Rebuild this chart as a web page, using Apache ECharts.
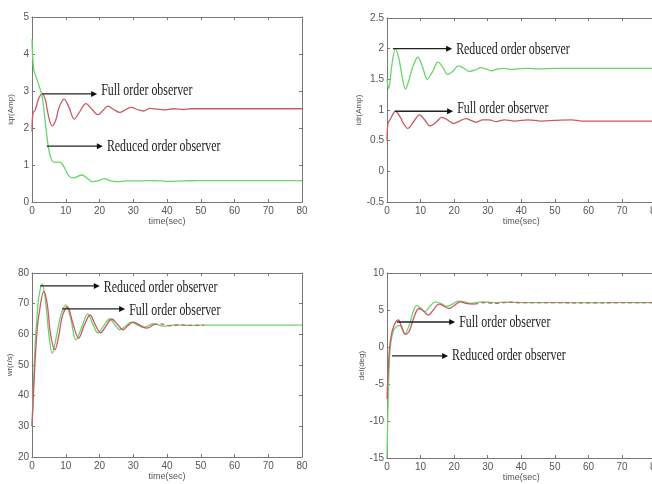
<!DOCTYPE html>
<html><head><meta charset="utf-8">
<script src="https://cdn.jsdelivr.net/npm/echarts@6/dist/echarts.min.js"></script>
<style>html,body{margin:0;padding:0;background:#fff}#c{width:652px;height:484px}</style>
</head><body><div id="c"></div>
<script>
// ---- Panel 1: iqr ----
const t1Full = [0,0.3,1,2,3,4,4.5,5.2,6,7,8,9.5,11,12.5,14,16,17.8,19.5,21,22.5,24.2,26,27.8,29.5,31.2,33,35,37,39,42,45,47,50,80];
const v1Full = [1.9,2.4,2.5,2.8,2.93,2.75,2.5,2.2,2.06,2.2,2.55,2.78,2.55,2.24,2.42,2.66,2.5,2.36,2.47,2.59,2.5,2.42,2.5,2.56,2.5,2.46,2.53,2.51,2.49,2.52,2.5,2.52,2.52,2.52];
const t1Red = [0,0.5,1.5,3,4,5,6,7,8,9,10,11,12,13,14.8,16.5,18,19.5,21.6,23,25,28,32,36,40,45,50,80];
const v1Red = [4.4,3.6,3.3,2.85,2.1,1.4,1.1,1.07,1.08,1.02,0.85,0.7,0.65,0.67,0.73,0.63,0.55,0.57,0.63,0.58,0.55,0.57,0.57,0.58,0.56,0.57,0.58,0.58];
// ---- Panel 2: idr ----
const t2Red = [0,0.5,1.5,2.5,3.5,4.5,5.5,6.5,7.8,9.2,10.6,12,13.6,15.2,16.6,18,19.6,21.3,22.9,24.5,26.2,28,29.5,31,33,35,37,39,42,45,50,80];
const v2Red = [1.5,1.35,1.75,2.0,1.85,1.55,1.34,1.48,1.72,1.86,1.7,1.5,1.63,1.78,1.7,1.58,1.63,1.72,1.68,1.63,1.65,1.69,1.67,1.64,1.67,1.68,1.66,1.67,1.68,1.67,1.68,1.68];
const t2Full = [0,0.3,1,2.5,4,5,6.2,7.8,9.7,11.2,12.8,14.6,16.3,18,19.8,21.6,23.5,25,26.5,28.5,30.5,32.5,35,38,42,46,50,55,58,80];
const v2Full = [0.5,0.78,0.85,0.98,0.88,0.77,0.7,0.8,0.92,0.84,0.74,0.8,0.88,0.84,0.78,0.82,0.86,0.83,0.8,0.84,0.84,0.81,0.84,0.82,0.84,0.82,0.83,0.84,0.82,0.82];
// ---- Panel 3: wr ----
const t3Red = [0,0.5,1,1.5,2,3,4,5,6,7,8.5,10,11.5,13,14.8,16.5,18,19.5,21.2,23,24.5,26,27.8,29.5,31.2,33,36,39,42,46,50,80];
const v3Red = [30,45,58,66,72,76.5,71,60,53.8,58,66,69.6,65,58.2,62.5,66.7,63.5,60.4,62.7,65,63.2,61.5,62.8,64,63,62.2,63.5,62.6,63.1,62.9,63,63];
const t3Full = [0,0.5,1,1.5,2,3.5,4.5,5.5,6.8,8,9,10.5,12,13.8,15.5,17.2,18.8,20.3,22,23.6,25.3,27,28.5,30,32,34,36,38,41,44,47,51];
const v3Full = [30,42,53,61,66,74,70,60,55,60,66,69,64,58.7,63,66.3,63,60.5,62.8,65,63.3,61.5,62.9,64,63,62,63.2,63.4,62.8,63.1,62.9,63];
// ---- Panel 4: del ----
const t4Red = [0,0.3,0.7,1.2,2,3,3.8,5.3,6.5,7.8,8.8,10,11.3,12.8,14.3,16,17.7,19.5,21.2,23,25,28,32,36,40,50,80];
const v4Red = [-15,-8,-2,0.8,2.3,2.8,2.9,1.8,2.8,4.8,5.6,5.3,4.8,5.5,6.1,5.9,5.5,5.8,6.2,6.1,5.9,6.1,6.0,6.05,6.0,6.0,6.0];
const t4Full = [0,0.5,1,2,3.4,4.3,5.5,6.8,8,9.5,11,12.3,13.8,15.5,17,18.5,20,21.8,23.5,26,29,32,36,40,50,60,70,80];
const v4Full = [-7,-2,0.8,2.8,3.65,2.8,1.7,2.3,4.0,5.2,4.8,4.3,5.0,5.8,5.5,5.2,5.6,6.1,5.9,5.8,6.0,5.9,6.05,6.0,6.0,5.95,6.0,6.0];

const yNames = ['iqr(Amp)','idr(Amp)','wr(r/s)','del(deg)'];
const yMin = [0,-0.5,20,-15], yMax = [5,2.5,80,10], yStep = [1,0.5,10,5];
const xName = 'time(sec)';
// annotations
const annPanel = [0,0,1,1,2,2,3,3];
const annX0 = [2.96,4.4,1.8,2.4,2.4,8.9,3.0,1.5];
const annX1 = [19.3,21,19.4,19.7,20.1,27.6,20.3,18.2];
const annY = [2.92,1.51,2.0,0.98,75.8,68.3,3.38,-1.2];
const annText = ['Full order observer','Reduced order observer','Reduced order observer','Full order observer','Reduced order observer','Full order observer','Full order observer','Reduced order observer'];
const annDy = [-3,0,1,-3,2,2,1,0];

const RED = '#c95a66', GREEN = '#6cd46c';
const grids = [
  {left:32, top:17, width:270, height:185, outerBoundsMode:'none', containLabel:false},
  {left:387, top:18, width:268.6, height:184, outerBoundsMode:'none', containLabel:false},
  {left:32, top:273, width:270, height:184, outerBoundsMode:'none', containLabel:false},
  {left:387, top:273, width:268.6, height:185, outerBoundsMode:'none', containLabel:false}
];
const FONT = '"Liberation Sans Narrow","Liberation Sans",Arial';
const lblFont = {fontFamily:FONT, fontSize:10, color:'#555'};
const axLine = {onZero:false, lineStyle:{color:'#777'}};
const axTick = {inside:true, length:3, lineStyle:{color:'#777'}};
const xAxes = [], yAxes = [];
grids.forEach((g,i)=>{
  xAxes.push({type:'value', gridIndex:i, min:0, max:80, interval:10, position:'bottom',
    name:xName, nameLocation:'middle', nameGap:15,
    nameTextStyle:{fontFamily:FONT, fontSize:9, color:'#555'},
    axisLine:axLine, axisTick:axTick,
    axisLabel:Object.assign({margin:4}, lblFont), splitLine:{show:false}});
  xAxes.push({type:'value', gridIndex:i, min:0, max:80, interval:10, position:'top',
    axisLine:axLine, axisTick:axTick, axisLabel:{show:false}, splitLine:{show:false}});
  yAxes.push({type:'value', gridIndex:i, min:yMin[i], max:yMax[i], interval:yStep[i], position:'left',
    name:yNames[i], nameLocation:'middle', nameGap:17, nameRotate:90,
    nameTextStyle:{fontFamily:FONT, fontSize:8, color:'#555'},
    axisLine:axLine, axisTick:axTick,
    axisLabel:Object.assign({margin:3}, lblFont), splitLine:{show:false}});
  yAxes.push({type:'value', gridIndex:i, min:yMin[i], max:yMax[i], interval:yStep[i], position:'right',
    axisLine:axLine, axisTick:axTick, axisLabel:{show:false}, splitLine:{show:false}});
});
const zip = (t,v)=>t.map((x,k)=>[x,v[k]]);
function line(name,i,t,v,color,dashed){
  return {name:name, type:'line', xAxisIndex:2*i, yAxisIndex:2*i, data:zip(t,v), smooth:0.35,
    symbol:'none', lineStyle:{color:color, width:1.3, type:dashed?[4,3]:'solid'}, itemStyle:{color:color}, z:dashed?4:3};
}
function split(t,v,from){ const k=t.findIndex(x=>x>=from); return [t.slice(0,k+1),v.slice(0,k+1),t.slice(k),v.slice(k)]; }
const s3 = split(t3Full,v3Full,36), s4 = split(t4Full,v4Full,25);
const series = [
  line('Full order observer',0,t1Full,v1Full,RED),
  line('Reduced order observer',0,t1Red,v1Red,GREEN),
  line('Reduced order observer',1,t2Red,v2Red,GREEN),
  line('Full order observer',1,t2Full,v2Full,RED),
  line('Reduced order observer',2,t3Red,v3Red,GREEN),
  line('Full order observer',2,s3[0],s3[1],RED),
  line('Full order observer tail',2,s3[2],s3[3],RED,true),
  line('Reduced order observer',3,t4Red,v4Red,GREEN),
  line('Full order observer',3,s4[0],s4[1],RED),
  line('Full order observer tail',3,s4[2],s4[3],RED,true)
];
const chart = echarts.init(document.getElementById('c'), null, {renderer:'canvas'});
chart.setOption({animation:false, backgroundColor:'#fff', grid:grids, xAxis:xAxes, yAxis:yAxes, series:series});
const gfx = [];
annPanel.forEach((p,k)=>{
  const a = chart.convertToPixel({gridIndex:p}, [annX0[k], annY[k]]);
  const b = chart.convertToPixel({gridIndex:p}, [annX1[k], annY[k]]);
  gfx.push({type:'line', shape:{x1:a[0], y1:a[1], x2:b[0]-4, y2:b[1]}, style:{stroke:'#222', lineWidth:1.3}, z:10});
  gfx.push({type:'polygon', shape:{points:[[b[0],b[1]],[b[0]-6,b[1]-3],[b[0]-6,b[1]+3]]}, style:{fill:'#111'}, z:10});
  gfx.push({type:'text', x:b[0]+4, y:b[1]+annDy[k], scaleX:0.7, z:10,
    style:{text:annText[k], x:0, y:0, fill:'#222', font:'17px "Liberation Serif","Times New Roman",serif', textAlign:'left', textVerticalAlign:'middle'}});
});
chart.setOption({graphic:gfx});
</script></body></html>
